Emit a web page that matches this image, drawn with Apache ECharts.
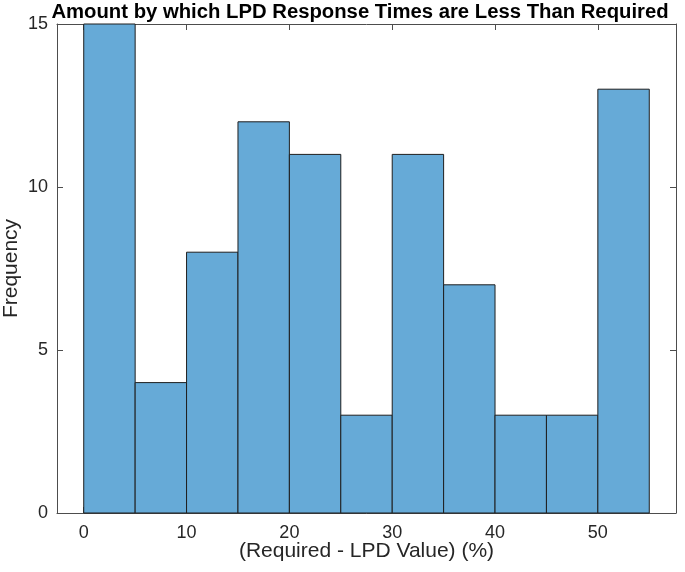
<!DOCTYPE html>
<html>
<head>
<meta charset="utf-8">
<script src="https://cdn.jsdelivr.net/npm/echarts@6/dist/echarts.min.js"></script>
<style>html,body{margin:0;padding:0;background:#fff}#c{width:685px;height:572px}</style>
</head>
<body>
<div id="c"></div>
<script>
var binStarts = [0, 5, 10, 15, 20, 25, 30, 35, 40, 45, 50];
var binWidth = 5;
var counts = [15, 4, 8, 12, 11, 3, 11, 7, 3, 3, 13];
var xTicks = [0, 10, 20, 30, 40, 50];
var yTicks = [0, 5, 10, 15];
var titleText = 'Amount by which LPD Response Times are Less Than Required';
var xName = '(Required - LPD Value) (%)';
var yName = 'Frequency';

var data = binStarts.map(function (s, i) { return [s, s + binWidth, counts[i]]; });
var font = 'Liberation Sans, Arial, Helvetica, sans-serif';
var axisColor = '#4d4d4d';
var chart = echarts.init(document.getElementById('c'));
chart.setOption({
  animation: false,
  title: {
    text: titleText, left: 355, top: -3, textAlign: 'center',
    textStyle: { fontFamily: font, fontSize: 20.3, fontWeight: 'bold', color: '#000' }
  },
  grid: { left: 57, right: 9, top: 24, bottom: 59, containLabel: false, outerBoundsMode: 'none' },
  xAxis: [{
    type: 'value', min: -2.6, max: 57.6, position: 'bottom',
    axisLine: { show: true, onZero: false, lineStyle: { color: axisColor, width: 1 } },
    axisTick: { show: true, inside: true, length: 6, customValues: xTicks, lineStyle: { color: axisColor } },
    axisLabel: { customValues: xTicks, fontFamily: font, fontSize: 18, color: '#262626', margin: 11 },
    splitLine: { show: false },
    name: xName, nameLocation: 'middle', nameGap: 28, nameMoveOverlap: false,
    nameTextStyle: { fontFamily: font, fontSize: 21, color: '#262626' }
  }, {
    type: 'value', min: -2.6, max: 57.6, position: 'top',
    axisLine: { show: true, onZero: false, lineStyle: { color: axisColor, width: 1 } },
    axisTick: { show: true, inside: true, length: 6, customValues: xTicks, lineStyle: { color: axisColor } },
    axisLabel: { show: false }, splitLine: { show: false }
  }],
  yAxis: [{
    type: 'value', min: 0, max: 15, interval: 5, position: 'left',
    axisLine: { show: true, onZero: false, lineStyle: { color: axisColor, width: 1 } },
    axisTick: { show: true, inside: true, length: 6, lineStyle: { color: axisColor } },
    axisLabel: { customValues: yTicks, fontFamily: font, fontSize: 18, color: '#262626', margin: 9 },
    splitLine: { show: false },
    name: yName, nameLocation: 'middle', nameGap: 35, nameMoveOverlap: false,
    nameTextStyle: { fontFamily: font, fontSize: 21, color: '#262626' }
  }, {
    type: 'value', min: 0, max: 15, interval: 5, position: 'right',
    axisLine: { show: true, onZero: false, lineStyle: { color: axisColor, width: 1 } },
    axisTick: { show: true, inside: true, length: 6, lineStyle: { color: axisColor } },
    axisLabel: { show: false }, splitLine: { show: false }
  }],
  series: [{
    type: 'custom',
    xAxisIndex: 0, yAxisIndex: 0,
    data: data,
    encode: { x: [0, 1], y: 2 },
    renderItem: function (params, api) {
      var p0 = api.coord([api.value(0), 0]);
      var p1 = api.coord([api.value(1), api.value(2)]);
      return {
        type: 'rect',
        shape: { x: p0[0], y: p1[1], width: p1[0] - p0[0], height: p0[1] - p1[1] },
        style: { fill: '#66AAD7', stroke: '#1f1f1f', lineWidth: 1 }
      };
    }
  }]
});
</script>
</body>
</html>
